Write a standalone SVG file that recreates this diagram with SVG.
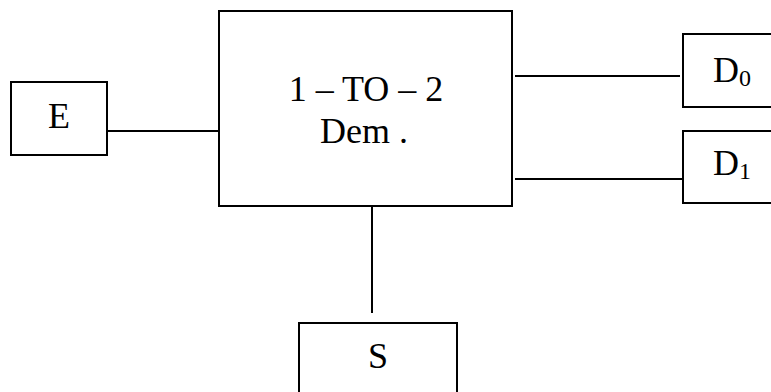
<svg xmlns="http://www.w3.org/2000/svg" width="771" height="392" viewBox="0 0 771 392">
<style>
.box{fill:#fff;stroke:#000;stroke-width:2}
.ln{stroke:#000;stroke-width:2;fill:none}
.t{font-family:"Liberation Serif","Times New Roman",serif;font-size:36px;fill:#000;text-anchor:middle}
.sub{font-size:24px}
</style>
<rect width="771" height="392" fill="#fff"/>
<g id="connectors">
<line class="ln" x1="107" y1="131" x2="220" y2="131"/>
<line class="ln" x1="515" y1="76" x2="680" y2="76"/>
<line class="ln" x1="515" y1="179" x2="683" y2="179"/>
<line class="ln" x1="372" y1="203" x2="372" y2="313"/>
</g>
<g id="node-demux">
<rect class="box" x="219" y="11" width="293" height="195"/>
<text class="t" x="366" y="101">1 – TO – 2</text>
<text class="t" x="364" y="143">Dem .</text>
</g>
<g id="node-E">
<rect class="box" x="11" y="82" width="96" height="73"/>
<text class="t" x="59" y="128">E</text>
</g>
<g id="node-D0">
<rect class="box" x="683" y="34" width="120" height="73"/>
<text class="t" x="713" y="82" style="text-anchor:start">D<tspan class="sub" dy="4">0</tspan></text>
</g>
<g id="node-D1">
<rect class="box" x="683" y="131" width="120" height="72"/>
<text class="t" x="713" y="175" style="text-anchor:start">D<tspan class="sub" dy="4">1</tspan></text>
</g>
<g id="node-S">
<rect class="box" x="299" y="323" width="158" height="100"/>
<text class="t" x="378" y="368">S</text>
</g>
</svg>
